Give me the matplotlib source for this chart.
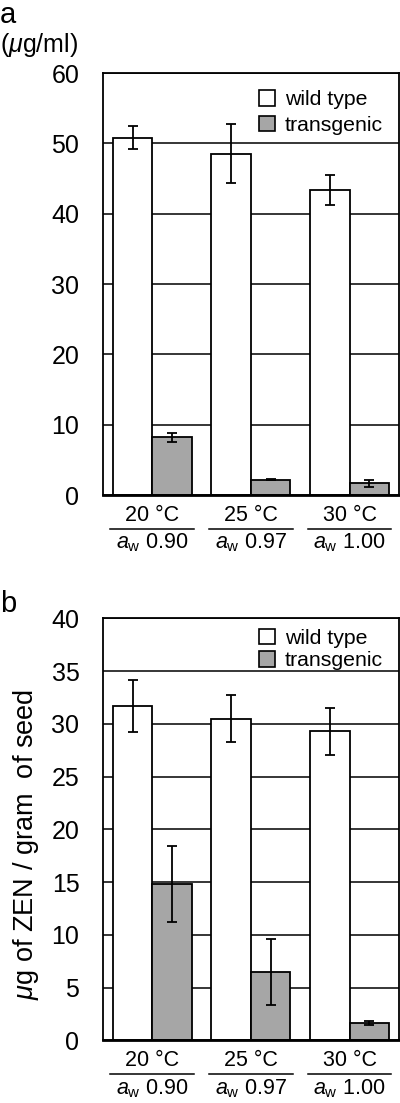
import matplotlib
matplotlib.use('Agg')
import matplotlib.pyplot as plt
import matplotlib.transforms as mtransforms
from matplotlib.patches import Patch
import numpy as np

plt.rcParams['font.family'] = ['Liberation Sans', 'DejaVu Sans']
plt.rcParams['mathtext.fontset'] = 'custom'
plt.rcParams['mathtext.rm'] = 'Liberation Sans'
plt.rcParams['mathtext.it'] = 'Liberation Sans:italic'

# data
temps = ['20 °C', '25 °C', '30 °C']
aw_labels = ['0.90', '0.97', '1.00']
series = ['wild type', 'transgenic']

wt_a = [50.8, 48.5, 43.4]
wt_a_err = [1.6, 4.2, 2.1]
tg_a = [8.2, 2.2, 1.7]
tg_a_err = [0.6, 0.08, 0.5]

wt_b = [31.7, 30.5, 29.3]
wt_b_err = [2.5, 2.2, 2.2]
tg_b = [14.8, 6.5, 1.65]
tg_b_err = [3.6, 3.1, 0.2]

gray = '#a6a6a6'
W = 0.4


def panel(ax, wt, wt_err, tg, tg_err, ymax, ystep, leg_y, leg_sp):
    x = np.arange(len(temps))
    ax.set_axisbelow(True)
    ax.yaxis.grid(True, color='black', lw=1.1)
    ax.bar(x - W / 2, wt, W, color='white', edgecolor='black', lw=1.3, zorder=2)
    ax.bar(x + W / 2, tg, W, color=gray, edgecolor='black', lw=1.3, zorder=2)
    ax.errorbar(x - W / 2, wt, yerr=wt_err, fmt='none', ecolor='black',
                elinewidth=1.3, capsize=3.5, capthick=1.3, zorder=3)
    ax.errorbar(x + W / 2, tg, yerr=tg_err, fmt='none', ecolor='black',
                elinewidth=1.3, capsize=3.5, capthick=1.3, zorder=3)
    ax.set_xlim(-0.5, len(temps) - 0.5)
    ax.set_ylim(0, ymax)
    ax.set_yticks(np.arange(0, ymax + 0.1, ystep))
    ax.set_xticks([])
    ax.tick_params(axis='y', length=0, pad=17, labelsize=18)
    for s in ax.spines.values():
        s.set_linewidth(1.3)
    ax.spines['bottom'].set_linewidth(2)

    tr = mtransforms.blended_transform_factory(ax.transData, ax.transAxes)
    off = lambda dy: mtransforms.offset_copy(tr, fig=ax.figure, y=-dy, units='dots')
    for i in range(len(temps)):
        ax.text(i, 0, temps[i], transform=off(20), ha='center', va='center', fontsize=15.5)
        ax.plot([i - 0.425, i + 0.425], [0, 0], transform=off(34), color='black',
                lw=1.1, clip_on=False)
        ax.text(i, 0, '$a_{\\mathrm{w}}$ ' + aw_labels[i], transform=off(48),
                ha='center', va='center', fontsize=15.5)

    handles = [Patch(facecolor='white', edgecolor='black', lw=1.2),
               Patch(facecolor=gray, edgecolor='black', lw=1.2)]
    ax.legend(handles, series, loc='upper right', frameon=False, fontsize=15.3,
              handlelength=0.75, handleheight=0.75, handletextpad=0.45,
              labelspacing=leg_sp, borderaxespad=0.2, bbox_to_anchor=(0.99, leg_y))


fig = plt.figure(figsize=(4, 11.03), dpi=100)
ax1 = fig.add_axes([0.2575, 0.5512, 0.7395, 0.3826])
ax2 = fig.add_axes([0.2575, 0.0567, 0.7395, 0.3826])

panel(ax1, wt_a, wt_a_err, tg_a, tg_a_err, 60, 10, 0.99, 0.3)
panel(ax2, wt_b, wt_b_err, tg_b, tg_b_err, 40, 5, 1.006, 0.15)

fig.text(0.0, 1 - 15 / 1103, 'a', fontsize=21, va='center', ha='left')
fig.text(0.0, 1 - 45 / 1103, '($\\mu$g/ml)', fontsize=18, va='center', ha='left')
fig.text(0.0, 1 - 604 / 1103, 'b', fontsize=21, va='center', ha='left')
fig.text(26 / 400, 1 - 844 / 1103, '$\\mu$g of ZEN / gram  of seed', fontsize=19.5,
         rotation=90, va='center', ha='center')

fig.savefig('out.png', dpi=100)
